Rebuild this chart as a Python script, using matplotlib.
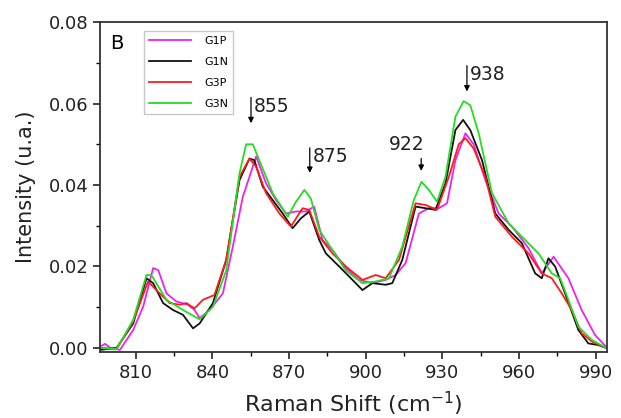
import numpy as np
import matplotlib
matplotlib.use("Agg")
import matplotlib.pyplot as plt
from matplotlib.ticker import MultipleLocator

# Raman shift (cm-1) / intensity, one pair per sample
g1p_x = [796, 798, 800, 803.8, 809, 812.9, 816.8, 818.8, 822, 825.9, 830.4, 833, 835,
         838.9, 844.1, 848, 851.9, 857.1, 861, 864.9, 868.8, 872.7, 876.6, 879.8, 883.1,
         887, 892.2, 897.4, 902.6, 907.8, 911.7, 915.6, 920.8, 924.7, 928.6, 931.8, 935.1,
         939, 942.2, 946.8, 952, 957.2, 963.7, 968.9, 973.5, 979.3, 984.5, 989.7, 994]
g1p_y = [0.0003, 0.001, 0.0, -0.0005, 0.0044, 0.0101, 0.0196, 0.0191, 0.0134, 0.0114,
         0.0106, 0.0093, 0.0073, 0.0093, 0.0134, 0.0249, 0.0371, 0.047, 0.0404, 0.0363,
         0.033, 0.0335, 0.0335, 0.0347, 0.0265, 0.024, 0.0196, 0.0167, 0.0159, 0.0167,
         0.0179, 0.0208, 0.033, 0.0343, 0.0343, 0.0355, 0.0461, 0.0527, 0.050, 0.0412,
         0.033, 0.0298, 0.0245, 0.0183, 0.0224, 0.0171, 0.0093, 0.0032, 0.0003]

g1n_x = [796, 802.5, 809, 814.2, 816.8, 820.7, 824.6, 828.5, 832.4, 835, 840.2, 845.4,
         850.6, 854.5, 856.4, 859.7, 863.6, 867.5, 871.4, 874.6, 877.9, 881.8, 884.4,
         889.6, 894.8, 898.7, 902.6, 907.8, 910.4, 914.3, 919.5, 923.4, 927.3, 931.2,
         935.1, 938.1, 940.9, 945.5, 950.7, 955.9, 961.1, 966.3, 968.9, 971.5, 974.1,
         978, 983.2, 987.1, 991, 994]
g1n_y = [-0.0005, 0.0, 0.006, 0.0171, 0.0159, 0.011, 0.0093, 0.0081, 0.0048, 0.006,
         0.011, 0.0216, 0.0412, 0.0465, 0.0461, 0.0396, 0.0363, 0.033, 0.0294, 0.0318,
         0.0335, 0.0265, 0.0232, 0.020, 0.0167, 0.0142, 0.0159, 0.0155, 0.0159, 0.0216,
         0.0347, 0.0343, 0.0339, 0.0404, 0.0535, 0.056, 0.0535, 0.0461, 0.033, 0.029,
         0.0257, 0.0183, 0.0171, 0.022, 0.020, 0.0134, 0.0044, 0.0011, 0.0007, 0.0]

g3p_x = [796, 802.5, 809, 814.8, 818.7, 823.3, 827.2, 829.8, 833, 836.3, 840.8, 845.4,
         850.6, 854.5, 857.1, 861, 866.2, 870.7, 875.3, 877.9, 881.8, 887, 892.2, 898.7,
         903.9, 907.8, 913, 919.5, 923.4, 927.9, 932.5, 936.4, 939, 942.2, 946.8, 950.7,
         957.2, 963.7, 968.9, 972.8, 976.7, 980.6, 984.5, 988.4, 994]
g3p_y = [0.0, -0.0003, 0.0065, 0.0163, 0.0138, 0.011, 0.0106, 0.011, 0.0097, 0.0118,
         0.013, 0.0216, 0.042, 0.0465, 0.0445, 0.038, 0.033, 0.0298, 0.0343, 0.0339,
         0.0273, 0.0232, 0.020, 0.0167, 0.0179, 0.0171, 0.0216, 0.0355, 0.0351, 0.0339,
         0.042, 0.050, 0.0515, 0.049, 0.042, 0.0322, 0.0273, 0.0232, 0.0183, 0.0171,
         0.0134, 0.0093, 0.0036, 0.0016, 0.0]

g3n_x = [796, 802.5, 809, 814.2, 816.1, 822, 828.5, 835, 840.2, 845.4, 850.6, 853.2,
         855.8, 858.4, 863.6, 869.5, 872.7, 876, 878.5, 881.8, 887, 892.2, 898.7, 903.9,
         909.1, 914.3, 918.8, 921.8, 924.7, 927.9, 931.2, 935.1, 938.3, 940.9, 944.2,
         949.4, 955.9, 961.1, 967.6, 972.8, 976.1, 979.3, 983.2, 988.4, 994]
g3n_y = [0.0, -0.0003, 0.0069, 0.0179, 0.0179, 0.0118, 0.0093, 0.007, 0.0101, 0.019,
         0.0429, 0.050, 0.050, 0.046, 0.038, 0.0322, 0.0359, 0.0388, 0.0367, 0.029,
         0.024, 0.019, 0.0159, 0.0163, 0.0171, 0.0249, 0.0363, 0.0408, 0.0388, 0.0359,
         0.042, 0.0568, 0.0606, 0.0596, 0.0527, 0.038, 0.0306, 0.0273, 0.0232, 0.0183,
         0.0171, 0.0118, 0.0052, 0.002, 0.0]

labels = ["G1P", "G1N", "G3P", "G3N"]
colors = ["#ee22ee", "#111111", "#ff1a1a", "#22dd22"]

# peak marks: (label, arrow x, arrow top, arrow tip)
peaks = [("855", 855.1, 0.0622, 0.0545),
         ("875", 878.1, 0.0498, 0.0423),
         ("922", 921.7, 0.0472, 0.0428),
         ("938", 939.6, 0.0700, 0.0623)]

fig = plt.figure(figsize=(6.21, 4.18), dpi=100)
ax = fig.add_axes([0.161, 0.158, 0.816, 0.789])

series = [(g1p_x, g1p_y), (g1n_x, g1n_y), (g3p_x, g3p_y), (g3n_x, g3n_y)]
for (xs, ys), lab, c in zip(series, labels, colors):
    ax.plot(xs, ys, color=c, lw=1.3, label=lab)

for lab, px, ytop, ytip in peaks:
    ax.annotate("", xy=(px, ytip), xytext=(px, ytop),
                arrowprops=dict(arrowstyle="-|>", color="k", lw=0.9, mutation_scale=8))
    if lab == "922":
        ax.text(px - 5.5, ytop + 0.0003, lab, fontsize=13.5, ha="center", va="bottom",
                color="#222222")
    else:
        ax.text(px + 1.2, ytop - 0.0028, lab, fontsize=13.5, ha="left", va="center",
                color="#222222")

ax.text(0.02, 0.965, "B", transform=ax.transAxes, fontsize=14, ha="left", va="top")

leg = ax.legend(loc="upper left", bbox_to_anchor=(0.075, 0.99), fontsize=8,
                frameon=True, fancybox=False, handlelength=3.8, labelspacing=1.0,
                borderpad=0.45, handletextpad=1.2)
leg.get_frame().set_edgecolor("#bbbbbb")
leg.get_frame().set_linewidth(1.0)

ax.set_xlim(796, 994.3)
ax.set_ylim(-0.001, 0.08)
ax.xaxis.set_major_locator(MultipleLocator(30))
ax.xaxis.set_minor_locator(MultipleLocator(15))
ax.set_xticks(np.arange(810, 991, 30))
ax.yaxis.set_major_locator(MultipleLocator(0.02))
ax.yaxis.set_minor_locator(MultipleLocator(0.01))
ax.yaxis.set_major_formatter(matplotlib.ticker.FormatStrFormatter("%.2f"))

ax.tick_params(which="major", direction="out", length=5, width=1.2, labelsize=13,
               colors="#222222")
ax.tick_params(which="minor", direction="out", length=3, width=1.0)
for s in ax.spines.values():
    s.set_linewidth(1.3)
    s.set_color("#333333")

ax.set_xlabel("Raman Shift (cm$^{-1}$)", fontsize=16, labelpad=6, color="#222222")
ax.set_ylabel("Intensity (u.a.)", fontsize=15, labelpad=9, color="#222222")

fig.savefig("out.png", dpi=100)
